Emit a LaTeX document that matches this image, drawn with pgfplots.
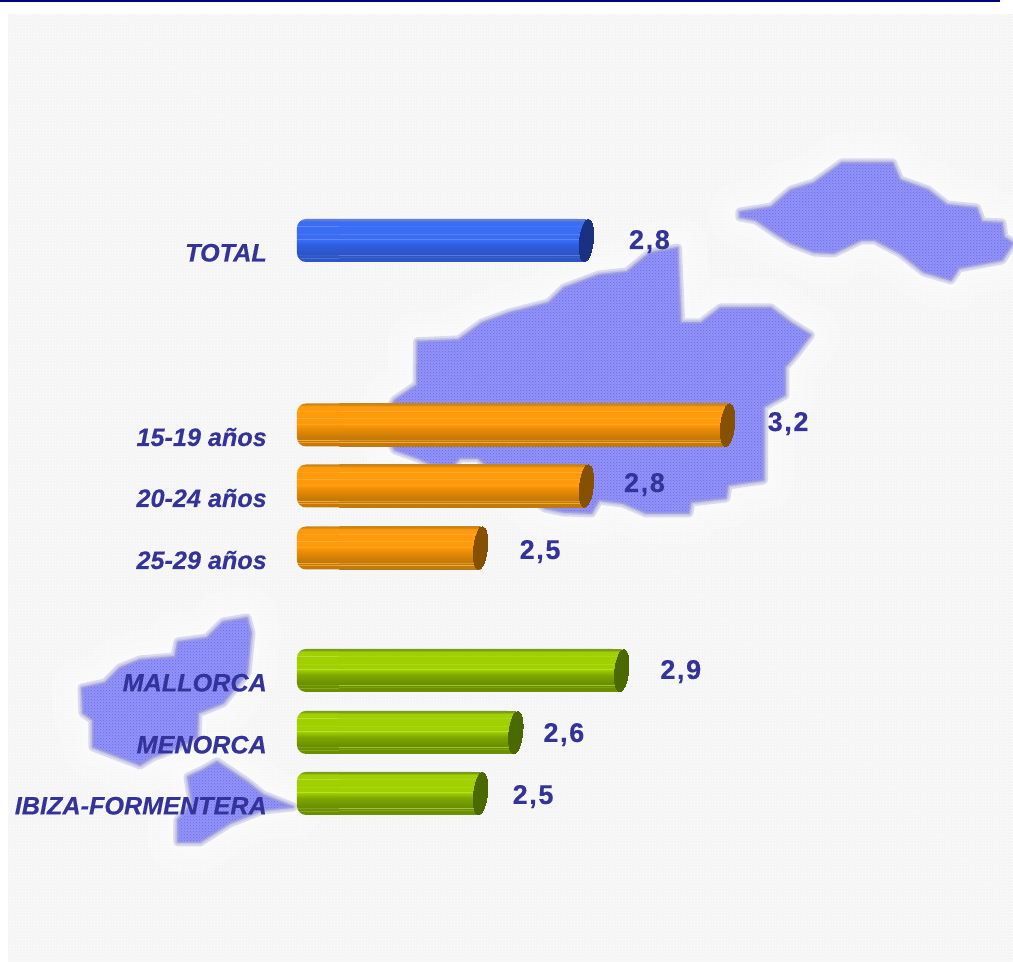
\documentclass[border=0pt]{standalone}
\usepackage{fontspec}
\setmainfont{Liberation Sans}
\newfontfamily\lblfont{Liberation Sans}[BoldItalicFeatures={FakeBold=0.35}]
\newfontfamily\valfont{Liberation Sans}[BoldFeatures={FakeBold=0.3,LetterSpace=6}]
\usepackage{pgfplots}
\usepackage{pgfplotstable}
\pgfplotsset{compat=1.18}
\usetikzlibrary{patterns}
\definecolor{txt}{HTML}{333399}
\definecolor{navy}{HTML}{000080}
\definecolor{bgg}{HTML}{F5F5F5}
\definecolor{isle}{HTML}{9393F5}
\definecolor{isleedge}{HTML}{9C9CDC}
\definecolor{bE}{HTML}{5C7FDC}\definecolor{bB}{HTML}{3A6CF4}\definecolor{bS}{HTML}{7298FF}\definecolor{bM}{HTML}{2D5EE2}\definecolor{bD}{HTML}{2E55C6}\definecolor{bL}{HTML}{3A58B0}\definecolor{bC}{HTML}{1A3080}
\definecolor{oE}{HTML}{C8851A}\definecolor{oB}{HTML}{FF9A0A}\definecolor{oS}{HTML}{FFB040}\definecolor{oM}{HTML}{E88A05}\definecolor{oD}{HTML}{C47A08}\definecolor{oL}{HTML}{B07A20}\definecolor{oC}{HTML}{855000}
\definecolor{gE}{HTML}{7A9A20}\definecolor{gB}{HTML}{A0D000}\definecolor{gS}{HTML}{C4E448}\definecolor{gM}{HTML}{7FA800}\definecolor{gD}{HTML}{6A9000}\definecolor{gL}{HTML}{7A9A30}\definecolor{gC}{HTML}{4A6A00}
\newcommand\defcyl[2]{\pgfdeclareverticalshading{#1}{100bp}{%
 color(0bp)=(#2L); color(25bp)=(#2L); color(26bp)=(#2D);
 color(29.4bp)=(#2D); color(30bp)=(#2S); color(30.6bp)=(#2D);
 color(32bp)=(#2D); color(32.6bp)=(#2S); color(33.2bp)=(#2D);
 color(35bp)=(#2D); color(45bp)=(#2M);
 color(50.9bp)=(#2B); color(51.5bp)=(#2S); color(52.1bp)=(#2B);
 color(57.4bp)=(#2B); color(58bp)=(#2S); color(58.6bp)=(#2B);
 color(66bp)=(#2B); color(66.6bp)=(#2S); color(67.2bp)=(#2B);
 color(72bp)=(#2B); color(74bp)=(#2E); color(75bp)=(#2E); color(100bp)=(#2E)}}
\defcyl{cylb}{b}\defcyl{cylo}{o}\defcyl{cylg}{g}
\pgfplotstableread{
x y
417.6 341.7
458.6 340
482 323
509.5 313
548.6 303
564 288
599 275
627 272
650 253
677.6 248
680.7 323
701 323
720.5 308
771 308
791 323
810.5 335
797 353
785 367
785 395
763.6 407
763.6 480
728 485
726 498
691 502
689 513
646 513
623 503
599 500
591.5 513
564 512
545 508
492 470
478 458
460 458
452 466
430 464
418 458
395 450
380 425
395 400
417 385
}\isleA
\pgfplotstableread{
x y
740 212
771.4 207
791 190
814 183
842 163
892.6 163
900 180
928 190
947 205
976.6 208
982 222
1002 223
1004 237
1013 243
1002 260
959 268
951 280
924 272
900 253
875 240
861 240
834 253
814 252
791 243
775 233
756 220
740 217
}\isleB
\pgfplotstableread{
x y
82 688
105 683
120 668
140 660
175 657
178 642
207 638
223 622
247 618
251 633
247 673
223 703
198 713
197 737
180 747
153 757
140 765
127 760
93 747
93 720
83 713
}\isleC
\pgfplotstableread{
x y
217 762
247 782
263 795
293 807
263 810
230 823
200 842
178 842
178 820
192 803
188 777
203 770
}\isleD
\pgfplotstableread{
x y
2.8 240.5
}\barT
\pgfplotstableread{
x y
3.2 425
}\barOa
\pgfplotstableread{
x y
2.8 486
}\barOb
\pgfplotstableread{
x y
2.5 548
}\barOc
\pgfplotstableread{
x y
2.9 670.5
}\barGa
\pgfplotstableread{
x y
2.6 732.5
}\barGb
\pgfplotstableread{
x y
2.5 793.5
}\barGc
\pgfplotsset{halo/.style={draw=white,fill=white,line width=#1,opacity=.22,line join=round},
 glow/.style={draw=isleedge,fill=none,line width=#1,opacity=.35,line join=round},
 islef/.style={draw=none,fill=isle,
   postaction={pattern=crosshatch dots,pattern color=isle!70!blue}},
 cyl/.style={xbar,bar width=43pt,bar shift=0pt,draw=none,shade,shading=#1}}
\newcommand\isleplots[1]{%
\addplot[halo=60pt] table {#1} --cycle;
\addplot[halo=36pt] table {#1} --cycle;
\addplot[halo=20pt] table {#1} --cycle;
\addplot[glow=9pt] table {#1} --cycle;
\addplot[glow=5pt] table {#1} --cycle;
\addplot[islef] table {#1} --cycle;
\addplot[draw=isleedge,line width=2pt,opacity=.8,line join=round,fill=none] table {#1} --cycle;
}
\begin{document}
\begin{tikzpicture}
\begin{axis}[at={(0pt,0pt)},anchor=south west,scale only axis,width=1013pt,height=962pt,
  xmin=0,xmax=1013,ymin=0,ymax=962,y dir=reverse,hide axis]
\addplot[fill=white,draw=none] coordinates {(0,0)(1013,0)(1013,962)(0,962)} --cycle;
\addplot[fill=navy,draw=none] coordinates {(0,0)(1000,0)(1000,2)(0,2)} --cycle;
\addplot[fill=bgg,draw=none,postaction={pattern=crosshatch dots,pattern color=white}] coordinates {(8,14)(1013,14)(1013,962)(8,962)} --cycle;
\isleplots{\isleA}
\isleplots{\isleB}
\isleplots{\isleC}
\isleplots{\isleD}
\end{axis}
% rounded left ends of the cylinders, and the category labels
\begin{axis}[at={(297pt,0pt)},anchor=south west,scale only axis,width=716pt,height=962pt,
  xmin=1.98,xmax=4.0083,ymin=0,ymax=962,y dir=reverse,
  axis line style={draw=none},major tick length=0pt,xtick=\empty,
  ytick={240.5,425,486,548,670.5,732.5,793.5},
  yticklabels={TOTAL,15-19 años,20-24 años,25-29 años,MALLORCA,MENORCA,IBIZA-FORMENTERA},
  yticklabel style={font=\fontsize{25.2}{25.2}\selectfont\lblfont\bfseries\itshape,text=txt,anchor=base east,inner sep=0pt,xshift=-30pt,yshift=-21pt},
]
\addplot[cyl=cylb,rounded corners=9pt] table {\barT};
\addplot[cyl=cylo,rounded corners=9pt] table {\barOa};
\addplot[cyl=cylo,rounded corners=9pt] table {\barOb};
\addplot[cyl=cylo,rounded corners=9pt] table {\barOc};
\addplot[cyl=cylg,rounded corners=9pt] table {\barGa};
\addplot[cyl=cylg,rounded corners=9pt] table {\barGb};
\addplot[cyl=cylg,rounded corners=9pt] table {\barGc};
\end{axis}
% square bodies up to the end caps, the caps and the values
\begin{axis}[at={(339.4pt,0pt)},anchor=south west,scale only axis,width=673.6pt,height=962pt,
  xmin=2.1,xmax=4.0083,ymin=0,ymax=962,y dir=reverse,
  axis line style={draw=none},major tick length=0pt,xtick=\empty,ytick=\empty,
  cap/.style={only marks,mark=*,mark size=21.5pt,mark options={draw=#1,fill=#1,line width=0pt,rotate=-6,xscale=.32},
    visualization depends on={value \thisrow{dx}\as\mydx},
    visualization depends on={value \thisrow{dy}\as\mydy},
    point meta=x,
    nodes near coords={\pgfmathprintnumber[assume math mode=true,fixed,fixed zerofill,precision=1,use comma]{\pgfplotspointmeta}},
    every node near coord/.append style={font=\fontsize{27}{27}\selectfont\valfont\bfseries,text=txt,anchor=base,inner sep=0pt,xshift=\mydx pt,yshift=\mydy pt}},
]
\addplot[cyl=cylb,bar width=42.4pt] table {\barT};
\addplot[cyl=cylo,bar width=42.4pt] table {\barOa};
\addplot[cyl=cylo,bar width=42.4pt] table {\barOb};
\addplot[cyl=cylo,bar width=42.4pt] table {\barOc};
\addplot[cyl=cylg,bar width=42.4pt] table {\barGa};
\addplot[cyl=cylg,bar width=42.4pt] table {\barGb};
\addplot[cyl=cylg,bar width=42.4pt] table {\barGc};
\addplot[cap=bC] table {
x y dx dy
2.8 240.5 63 -8.5
};
\addplot[cap=oC] table {
x y dx dy
3.2 425 60.5 -6
2.8 486 58 -6
2.5 548 59.5 -11
};
\addplot[cap=gC] table {
x y dx dy
2.9 670.5 59 -8.5
2.6 732.5 48 -9.5
2.5 793.5 52.5 -10.5
};
\end{axis}
\end{tikzpicture}
\end{document}
